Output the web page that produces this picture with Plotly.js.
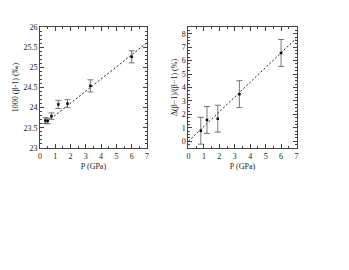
<!DOCTYPE html>
<html><head><meta charset="utf-8">
<script src="https://cdn.plot.ly/plotly-3.0.1.min.js"></script>
<style>html,body{margin:0;padding:0;background:#fff}#c{width:349px;height:270px}</style>
</head><body><div id="c"></div>
<script>
// Left panel data
const pLeft = [0.35, 0.5, 0.75, 1.2, 1.8, 3.3, 6.0];
const betaLeft = [23.68, 23.67, 23.79, 24.08, 24.1, 24.54, 25.26];
const errLeft = [0.07, 0.07, 0.08, 0.1, 0.1, 0.15, 0.15];
const fitLeftX = [0.3, 7];
const fitLeftY = [23.6, 25.61];
// Right panel data
const pRight = [0.8, 1.2, 1.9, 3.3, 6.0];
const relRight = [0.78, 1.58, 1.68, 3.5, 6.57];
const errRight = [1.0, 1.0, 1.0, 1.0, 1.0];
const fitRightX = [0, 7];
const fitRightY = [0, 7.68];

const F = () => ({family: 'Liberation Serif, Times New Roman, serif', size: 8, color: '#222222'});
const ebar = (a) => ({type: 'data', array: a, visible: true, color: '#555', thickness: 0.8, width: 3});
const traces = [
  {x: fitLeftX, y: fitLeftY, mode: 'lines', line: {color: '#222', width: 1, dash: '2px,2px'}, xaxis: 'x', yaxis: 'y', hoverinfo: 'skip'},
  {x: pLeft, y: betaLeft, mode: 'markers', marker: {color: '#000', size: 2.5, symbol: 'square'}, error_y: ebar(errLeft), xaxis: 'x', yaxis: 'y'},
  {x: fitRightX, y: fitRightY, mode: 'lines', line: {color: '#222', width: 1, dash: '2px,2px'}, xaxis: 'x2', yaxis: 'y2', hoverinfo: 'skip'},
  {x: pRight, y: relRight, mode: 'markers', marker: {color: '#000', size: 2.5, symbol: 'square'}, error_y: ebar(errRight), xaxis: 'x2', yaxis: 'y2'}
];
const axBase = () => ({showline: true, linecolor: '#444', linewidth: 1, mirror: 'allticks', ticks: 'inside', ticklen: 4, tickcolor: '#444', showgrid: false, zeroline: false, tickfont: F(), color: '#222222'});
const xax = (dom, anchor) => Object.assign(axBase(), {domain: dom, anchor: anchor, range: [0, 7], dtick: 1, ticklabelstandoff: 0, minor: {dtick: 0.5, ticks: 'inside', ticklen: 2, tickcolor: '#444'}, title: {text: 'P (GPa)', font: F(), standoff: 3}});
const layout = {
  width: 349, height: 270, margin: {l: 0, r: 0, t: 0, b: 0}, showlegend: false,
  paper_bgcolor: '#fff', plot_bgcolor: '#fff', font: F(),
  xaxis: xax([0.1146, 0.421], 'y'),
  xaxis2: xax([0.540, 0.8496], 'y2'),
  yaxis: Object.assign(axBase(), {domain: [0.452, 0.9], anchor: 'x', range: [23, 26], dtick: 0.5, minor: {dtick: 0.1, ticks: 'inside', ticklen: 2, tickcolor: '#444'}, title: {text: '1000 (β-1) (‰)', font: F(), standoff: 3}}),
  yaxis2: Object.assign(axBase(), {domain: [0.452, 0.9], anchor: 'x2', range: [-0.5, 8.5], dtick: 1, minor: {dtick: 0.25, ticks: 'inside', ticklen: 2, tickcolor: '#444'}, title: {text: 'Δ(β−1)/(β−1) (%)', font: F(), standoff: 3}})
};
Plotly.newPlot('c', traces, layout, {staticPlot: true, displayModeBar: false});
</script></body></html>
